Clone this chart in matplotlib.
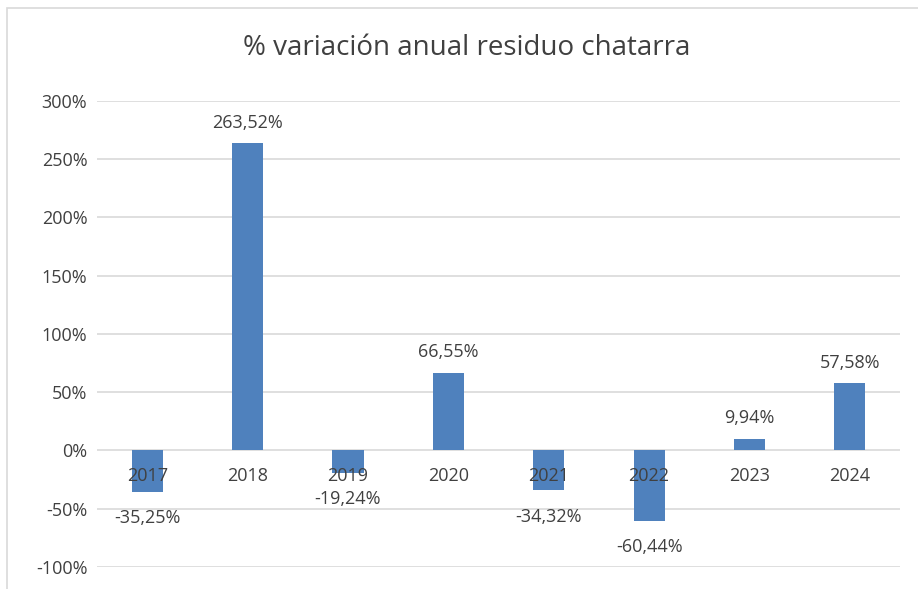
# % variación anual residuo chatarra - bar chart

import matplotlib.pyplot as plt
from matplotlib.ticker import FuncFormatter
from matplotlib.patches import Rectangle

years = ["2017", "2018", "2019", "2020", "2021", "2022", "2023", "2024"]
variation = [-35.25, 263.52, -19.24, 66.55, -34.32, -60.44, 9.94, 57.58]

plt.rcParams['font.family'] = ['Open Sans', 'DejaVu Sans']
text_color = '#404040'
bar_color = '#4f81bd'
grid_color = '#d9d9d9'

fig = plt.figure(figsize=(9.18, 5.89), dpi=100)
ax = fig.add_axes([0.1057, 0.0374, 0.8747, 0.7912])

# chart border (light gray frame, cropped at right/bottom)
fig.patches.append(Rectangle((7 / 918, -0.05), 1.2, 1 - 8 / 589 + 0.05,
                             transform=fig.transFigure, fill=False,
                             edgecolor='#d9d9d9', linewidth=1.2))

x = range(len(years))
bars = ax.bar(x, variation, width=0.31, color=bar_color, zorder=3)

ax.set_xlim(-0.5, len(years) - 0.5)
ax.set_ylim(-100, 300)
ax.set_yticks(range(-100, 301, 50))
ax.yaxis.set_major_formatter(FuncFormatter(lambda v, p: f"{int(v)}%"))
ax.grid(axis='y', color=grid_color, linewidth=1.2, zorder=0)

# category labels sit next to the zero line, drawn over the bars
ax.spines['bottom'].set_position(('data', 0))
ax.set_xticks(list(x))
ax.set_xticklabels(years)
ax.xaxis.set_zorder(5)
for s in ax.spines.values():
    s.set_visible(False)
ax.tick_params(axis='x', length=0, pad=12, labelsize=13, labelcolor=text_color)
ax.tick_params(axis='y', length=0, pad=7, labelsize=13, labelcolor=text_color)

# data labels
for xi, v in zip(x, variation):
    label = f"{v:.2f}".replace('.', ',') + '%'
    off = 15 if v >= 0 else -19
    ax.annotate(label, (xi, v), xytext=(0, off), textcoords='offset points',
                ha='center', va='center', fontsize=13, color=text_color,
                zorder=4)

fig.text(0.508, 1 - 48 / 589, "% variación anual residuo chatarra",
         ha='center', va='center', fontsize=20, color=text_color)

plt.savefig("out.png", dpi=100)
